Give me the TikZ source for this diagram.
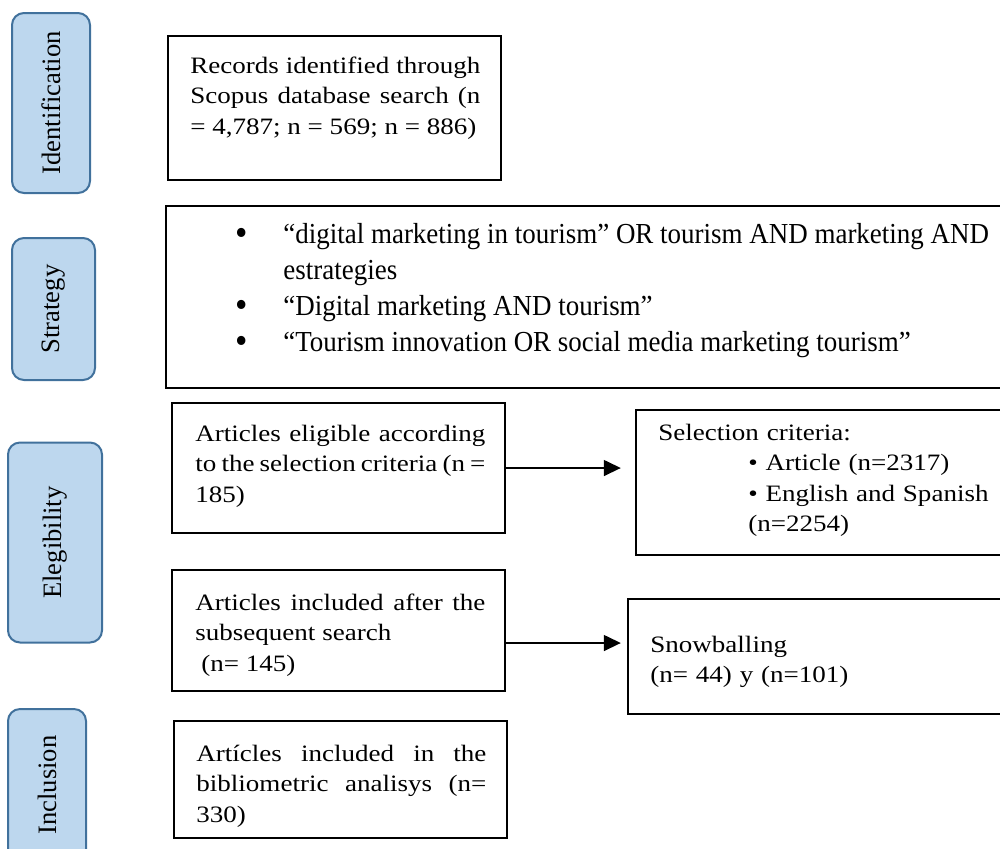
\documentclass[tikz,border=0pt]{standalone}
\usepackage{fontspec}
\setmainfont{Liberation Serif}
\newfontfamily\boxfont[FakeStretch=1.15]{Liberation Serif}
\newfontfamily\listfont[FakeStretch=0.93]{Liberation Serif}
\usetikzlibrary{arrows.meta,calc,positioning}
\definecolor{phasefill}{RGB}{189,215,238}
\definecolor{phaseedge}{RGB}{65,113,156}
\tolerance=10000
\hbadness=10000
\newcommand{\bigbul}{\smash{\raisebox{-1.3pt}{\fontsize{19}{16}\selectfont\textbullet}}}

\begin{document}
\begin{tikzpicture}[x=0.5pt,y=-0.5pt,>={Triangle[length=8.5pt,width=8pt]},
 phase/.style={draw=phaseedge,line width=1pt,fill=phasefill,rounded corners=6pt,rotate=90,inner sep=0pt,font=\fontsize{13.3}{15}\selectfont},
 frame/.style={draw,line width=1.2pt,inner sep=0pt},
 txt/.style={anchor=base west,inner sep=0pt,text width=145pt,align=justify,font=\boxfont\fontsize{11.75}{15.25}\selectfont},
 flow/.style={->,line width=0.75pt}]
 \useasboundingbox (0,0) rectangle (1000,848);
 \clip (0,0) rectangle (1000,848);

 % phases on the left
 \node[phase,minimum width=90pt,minimum height=39pt] (ident) at (51,103) {Identification};
 \node[phase,minimum width=71pt,minimum height=41.5pt] (strat) at (53.5,309) {Strategy};
 \node[phase,minimum width=100pt,minimum height=47pt] (elig) at (55,542.5) {Elegibility};
 \node[phase,minimum width=76pt,minimum height=39pt] (incl) at (47,785) {Inclusion};

 % frames
 \node[frame,minimum width=166.5pt,minimum height=72pt] (records) at (334.5,108) {};
 \node[frame,minimum width=430pt,minimum height=91pt] (query) at (596,297) {};
 \node[frame,minimum width=166.5pt,minimum height=65pt] (eligible) at (338.5,468) {};
 \node[frame,minimum width=192pt,minimum height=72.5pt] (criteria) at (828,482.5) {};
 \node[frame,minimum width=166.5pt,minimum height=60.5pt] (included) at (338.5,630.5) {};
 \node[frame,minimum width=196pt,minimum height=57.5pt] (snow) at (824,656.5) {};
 \node[frame,minimum width=166.5pt,minimum height=58.5pt] (final) at (340.5,779.5) {};

 % texts
 \node[txt] (recordstxt) at (190,73) {Records identified through\linebreak Scopus database search (n\linebreak = 4,787; n = 569; n = 886)};
 \node[anchor=base west,inner sep=0pt,font=\listfont\fontsize{14.5}{18}\selectfont] (querytxt) at (235,243)
  {\begin{tabular}[t]{@{}p{24pt}@{}l@{}}
   \bigbul & “digital marketing in tourism” OR tourism AND marketing AND\\
   & estrategies\\
   \bigbul & “Digital marketing AND tourism”\\
   \bigbul & “Tourism innovation OR social media marketing tourism”
  \end{tabular}};
 \node[txt] (eligibletxt) at (195,441) {Articles eligible according\linebreak to the selection criteria (n =\linebreak 185)};
 \node[txt,align=left,text width=180pt] (criteriatxt) at (658,440) {Selection criteria:\\\hspace*{45pt}\textbullet\ Article (n=2317)\\\hspace*{45pt}\textbullet\ English and Spanish\\\hspace*{45pt}(n=2254)};
 \node[txt] (includedtxt) at (195,610) {Articles included after the\linebreak subsequent search\newline\hspace*{0.25em}(n= 145)};
 \node[txt,align=left,text width=180pt] (snowtxt) at (650,652) {Snowballing\\(n= 44) y (n=101)};
 \node[txt] (finaltxt) at (196,761) {Artícles included in the\linebreak bibliometric analisys (n=\linebreak 330)};

 % arrows
 \draw[flow,shorten >=7pt] (eligible.east) -- (eligible.east -| criteria.west);
 \coordinate (snowstart) at ($(included.east)+(0,12.5)$);
 \draw[flow,shorten >=3pt] (snowstart) -- (snowstart -| snow.west);
\end{tikzpicture}
\end{document}
